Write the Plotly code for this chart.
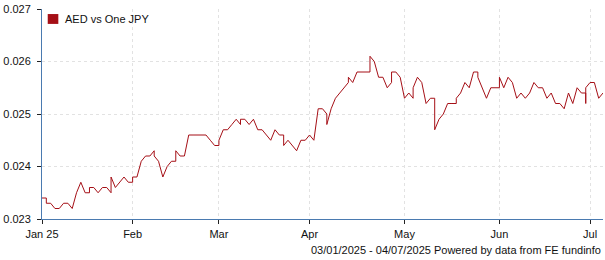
import plotly.graph_objects as go

# Weekday dates (a Monday listed twice/three times carries the weekend value first)
dates = [
    "2025-01-03",
    "2025-01-06", "2025-01-06", "2025-01-07", "2025-01-08", "2025-01-09", "2025-01-10",
    "2025-01-13", "2025-01-14", "2025-01-15", "2025-01-16", "2025-01-17",
    "2025-01-20", "2025-01-20", "2025-01-21", "2025-01-22", "2025-01-23", "2025-01-24",
    "2025-01-27", "2025-01-27", "2025-01-28", "2025-01-29", "2025-01-30", "2025-01-31",
    "2025-02-03", "2025-02-03", "2025-02-04", "2025-02-05", "2025-02-06", "2025-02-07",
    "2025-02-10", "2025-02-10", "2025-02-11", "2025-02-12", "2025-02-13", "2025-02-14",
    "2025-02-17", "2025-02-17", "2025-02-18", "2025-02-19", "2025-02-20", "2025-02-21",
    "2025-02-24", "2025-02-25", "2025-02-26", "2025-02-27", "2025-02-28",
    "2025-03-03", "2025-03-03", "2025-03-04", "2025-03-05", "2025-03-06", "2025-03-07",
    "2025-03-10", "2025-03-10", "2025-03-11", "2025-03-12", "2025-03-13", "2025-03-14",
    "2025-03-17", "2025-03-18", "2025-03-19", "2025-03-20", "2025-03-21",
    "2025-03-24", "2025-03-24", "2025-03-25", "2025-03-26", "2025-03-27", "2025-03-28",
    "2025-03-31", "2025-04-01", "2025-04-02", "2025-04-03", "2025-04-04",
    "2025-04-07", "2025-04-07", "2025-04-08", "2025-04-09", "2025-04-10", "2025-04-11",
    "2025-04-14", "2025-04-14", "2025-04-15", "2025-04-16", "2025-04-17", "2025-04-18",
    "2025-04-21", "2025-04-21", "2025-04-22", "2025-04-23", "2025-04-24", "2025-04-25",
    "2025-04-28", "2025-04-28", "2025-04-29", "2025-04-30", "2025-05-01", "2025-05-02",
    "2025-05-05", "2025-05-05", "2025-05-06", "2025-05-07", "2025-05-08", "2025-05-09",
    "2025-05-12", "2025-05-12", "2025-05-13", "2025-05-14", "2025-05-15", "2025-05-16",
    "2025-05-19", "2025-05-19", "2025-05-20", "2025-05-21", "2025-05-22", "2025-05-23",
    "2025-05-26", "2025-05-26", "2025-05-27", "2025-05-28", "2025-05-29", "2025-05-30",
    "2025-06-02", "2025-06-02", "2025-06-03", "2025-06-04", "2025-06-05", "2025-06-06",
    "2025-06-09", "2025-06-10", "2025-06-11", "2025-06-12", "2025-06-13",
    "2025-06-16", "2025-06-17", "2025-06-18", "2025-06-19", "2025-06-20",
    "2025-06-23", "2025-06-24", "2025-06-25", "2025-06-26", "2025-06-27",
    "2025-06-30", "2025-06-30", "2025-06-30", "2025-07-01", "2025-07-02", "2025-07-03",
    "2025-07-04",
]
rates = [
    0.0234,
    0.0234, 0.0233, 0.0233, 0.0232, 0.0232, 0.0233,
    0.0233, 0.0232, 0.0235, 0.0237, 0.0235,
    0.0235, 0.0236, 0.0236, 0.0235, 0.0236, 0.0236,
    0.0235, 0.0238, 0.0236, 0.0237, 0.0238, 0.0237,
    0.0237, 0.0238, 0.0238, 0.0241, 0.0242, 0.0242,
    0.0243, 0.0242, 0.0241, 0.0238, 0.0240, 0.0241,
    0.0241, 0.0243, 0.0242, 0.0242, 0.0246, 0.0246,
    0.0246, 0.0246, 0.0246, 0.0245, 0.0244,
    0.0244, 0.0245, 0.0247, 0.0247, 0.0248, 0.0249,
    0.0248, 0.0249, 0.0249, 0.0248, 0.0249, 0.0247,
    0.0247, 0.0246, 0.0245, 0.0247, 0.0246,
    0.0246, 0.0244, 0.0245, 0.0244, 0.0243, 0.0245,
    0.0245, 0.0246, 0.0245, 0.0251, 0.0251,
    0.0250, 0.0248, 0.0251, 0.0253, 0.0254, 0.0255,
    0.0256, 0.0257, 0.0256, 0.0258, 0.0258, 0.0258,
    0.0258, 0.0261, 0.0260, 0.0257, 0.0257, 0.0255,
    0.0256, 0.0258, 0.0258, 0.0257, 0.0253, 0.0254,
    0.0253, 0.0255, 0.0257, 0.0256, 0.0252, 0.0253,
    0.0253, 0.0247, 0.0249, 0.0250, 0.0252, 0.0252,
    0.0252, 0.0253, 0.0254, 0.0256, 0.0255, 0.0258,
    0.0258, 0.0257, 0.0255, 0.0253, 0.0255, 0.0255,
    0.0255, 0.0257, 0.0255, 0.0257, 0.0256, 0.0253,
    0.0254, 0.0253, 0.0254, 0.0256, 0.0255,
    0.0255, 0.0253, 0.0254, 0.0252, 0.0252,
    0.0251, 0.0254, 0.0252, 0.0255, 0.0254,
    0.0254, 0.0252, 0.0255, 0.0256, 0.0256, 0.0253,
    0.0254,
]

tick_dates = ["2025-01-03", "2025-02-03", "2025-03-03", "2025-04-01",
              "2025-05-01", "2025-06-02", "2025-07-01"]
tick_labels = ["Jan 25", "Feb", "Mar", "Apr", "May", "Jun", "Jul"]
y_ticks = [0.023, 0.024, 0.025, 0.026, 0.027]

series_name = "AED vs One JPY"
footer = "03/01/2025 - 04/07/2025 Powered by data from FE fundinfo"

RED = "#a50f16"
AXIS = "#4a7ab0"
GRID = "#e2e2e2"
FONT = "Liberation Sans, Arial, sans-serif"

fig = go.Figure()
fig.add_trace(go.Scatter(
    x=dates, y=rates, mode="lines", name=series_name,
    line=dict(color=RED, width=1),
    showlegend=False, hoverinfo="x+y",
))

# legend key: colour swatch + label (placed inside the plot, top-left)
fig.add_shape(type="rect", xref="paper", yref="paper",
              x0=0.0102, x1=0.0291, y0=0.929, y1=0.976,
              fillcolor=RED, line=dict(width=0))

fig.update_layout(
    width=605, height=260,
    margin=dict(l=42, r=2, t=9, b=41),
    paper_bgcolor="white", plot_bgcolor="white",
    font=dict(family=FONT, size=11, color="#111"),
    showlegend=False,
    annotations=[
        dict(text=series_name, xref="paper", yref="paper", x=0.037, y=0.953,
             xanchor="left", yanchor="middle", showarrow=False,
             font=dict(size=11, color="#111")),
        dict(text=footer, xref="paper", yref="paper", x=1.0, y=-0.147,
             xanchor="right", yanchor="middle", showarrow=False,
             font=dict(size=11, color="#111")),
    ],
)
fig.update_xaxes(
    type="date",
    range=["2025-01-03", "2025-07-04"],
    rangebreaks=[dict(bounds=["sat", "mon"])],
    tickmode="array", tickvals=tick_dates, ticktext=tick_labels,
    showgrid=True, gridcolor=GRID, griddash="3px,3px", gridwidth=1,
    showline=True, linecolor=AXIS, linewidth=1,
    ticks="outside", ticklen=4, tickcolor="#222", ticklabelstandoff=1,
    zeroline=False, fixedrange=True,
)
fig.update_yaxes(
    range=[0.023, 0.027],
    tickmode="array", tickvals=y_ticks, tickformat=".3f",
    showgrid=True, gridcolor=GRID, griddash="3px,3px", gridwidth=1,
    showline=True, linecolor=AXIS, linewidth=1,
    ticks="outside", ticklen=4, tickcolor="#222", ticklabelstandoff=4,
    zeroline=False, fixedrange=True,
)

fig.write_html("out.html", config={"displayModeBar": False})
